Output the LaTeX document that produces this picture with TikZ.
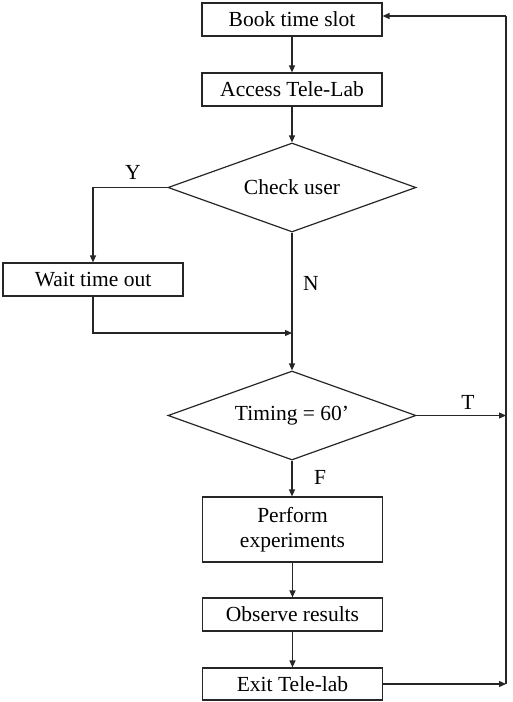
\documentclass[tikz,border=0pt]{standalone}
\usepackage{fontspec}
\setmainfont{Liberation Serif}
\usetikzlibrary{shapes.geometric,arrows.meta}
\begin{document}
\begin{tikzpicture}[x=1pt,y=-1pt,
  every node/.style={font=\fontsize{21.5}{25}\selectfont, text=black},
  box/.style={draw=black!85, line width=1.2pt, minimum width=180pt, minimum height=33pt, inner sep=0pt, align=center},
  dec/.style={draw=black!85, line width=1.2pt, diamond, inner sep=0pt, minimum width=248pt, minimum height=89pt},
  conn/.style={draw=black!85, line width=1.2pt},
  arr/.style={conn, -{Triangle[length=7pt,width=6pt]}},
  lab/.style={inner sep=0pt}]
\useasboundingbox (0,0) rectangle (512,702);
\node[box] (book) at (292,19.5) {Book time slot};
\node[box] (access) at (292,89.5) {Access Tele-Lab};
\node[dec] (check) at (292,187.5) {};
\node[lab] (checkt) at (check) {Check user};
\node[box] (wait) at (93,279.5) {Wait time out};
\node[dec] (timing) at (292,415.5) {};
\node[lab] (timingt) at (timing) {Timing = 60’};
\node[box, minimum height=65pt] (perform) at (292.5,529.5) {Perform\\experiments};
\node[box] (observe) at (292.5,614.5) {Observe results};
\node[box, minimum height=32pt] (exit) at (292.5,684) {Exit Tele-lab};
\coordinate (join) at (292,333);
\coordinate (tin) at (506,415.5);
\coordinate (ein) at (506,684);
\coordinate (top) at (506,16);
\node[lab] (y) at (133,172) {Y};
\node[lab] (n) at (311,283) {N};
\node[lab] (t) at (468,402) {T};
\node[lab] (f) at (320,477) {F};
\draw[arr] (book) -- (access);
\draw[arr] (access) -- (check);
\draw[arr] (check.west) -| (wait.north);
\draw[arr] (wait.south) |- (join);
\draw[arr] (check.south) -- (timing.north);
\draw[arr] (timing.east) -- (tin);
\draw[arr] (timing.south) -- (timing.south |- perform.north);
\draw[arr] (perform) -- (observe);
\draw[arr] (observe) -- (exit);
\draw[arr] (exit.east) -- (ein);
\draw[conn] (ein) -- (top);
\draw[arr] (top) -- (book.east |- top);
\end{tikzpicture}
\end{document}
